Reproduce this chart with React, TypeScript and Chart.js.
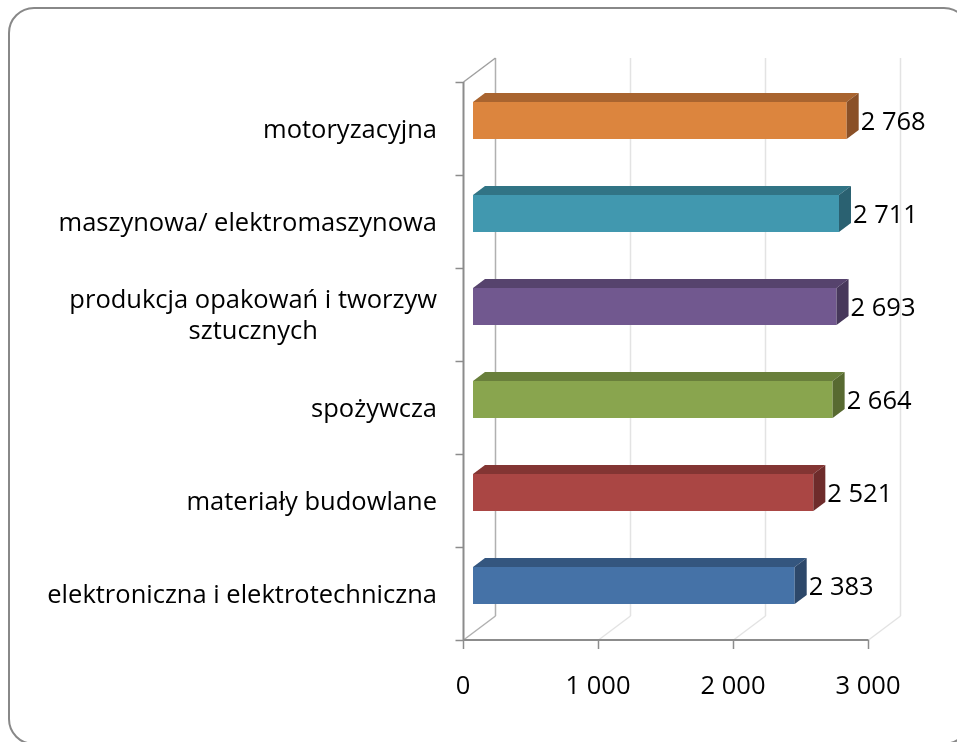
import React, { useEffect, useRef } from "react";
import { Chart, registerables } from "chart.js";

Chart.register(...registerables);

const categories: (string | string[])[] = [
  "motoryzacyjna",
  "maszynowa/ elektromaszynowa",
  ["produkcja opakowań i tworzyw", "sztucznych"],
  "spożywcza",
  "materiały budowlane",
  "elektroniczna i elektrotechniczna",
];
const values = [2768, 2711, 2693, 2664, 2521, 2383];
const xTicks = [0, 1000, 2000, 3000];
const frontColors = ["#DC853E", "#4198AF", "#71588F", "#89A54E", "#AA4644", "#4572A7"];
const topColors = ["#A9642F", "#317485", "#56436D", "#697F3B", "#833533", "#34567F"];
const sideColors = ["#8A5027", "#2A6171", "#47385B", "#586A31", "#6E2C2B", "#2D486A"];

const WALL_DX = 32;
const WALL_DY = 24;
const BAR_DX = 10;
const BAR_DY = 8;
const FACE_DX = 12;
const FACE_DY = 9;
const FONT = '25.5px "Open Sans", sans-serif';

const fmt = (v: number) => String(v).replace(/\B(?=(\d{3})+(?!\d))/g, " ");

function seg(ctx: CanvasRenderingContext2D, x1: number, y1: number, x2: number, y2: number, color: string, w = 1) {
  ctx.beginPath();
  ctx.strokeStyle = color;
  ctx.lineWidth = w;
  ctx.moveTo(x1, y1);
  ctx.lineTo(x2, y2);
  ctx.stroke();
}

const frame3d = {
  id: "frame3d",
  beforeDatasetsDraw(chart: any) {
    const { ctx, chartArea: a, scales } = chart;
    const x = scales.x;
    ctx.save();
    xTicks.forEach((v) => {
      const px = Math.round(x.getPixelForValue(v)) + 0.5;
      const c = v === 0 ? "#b0b0b0" : "#e3e3e3";
      seg(ctx, px + WALL_DX, a.top - WALL_DY, px + WALL_DX, a.bottom - WALL_DY, c, 1.5);
      seg(ctx, px, a.bottom, px + WALL_DX, a.bottom - WALL_DY, c, 1.5);
    });
    const x0 = Math.round(x.getPixelForValue(0)) + 0.5;
    seg(ctx, x0, a.top, x0 + WALL_DX, a.top - WALL_DY, "#a0a0a0", 1.5);
    seg(ctx, x0, a.top, x0, a.bottom, "#8c8c8c", 2);
    const band = (a.bottom - a.top) / categories.length;
    for (let k = 0; k <= categories.length; k++) {
      const yy = Math.round(a.top + k * band) + 0.5;
      seg(ctx, x0 - 8, yy, x0, yy, "#8c8c8c", 1.5);
    }
    seg(ctx, x0, a.bottom, Math.round(x.getPixelForValue(xTicks[xTicks.length - 1])) + 0.5, a.bottom, "#8c8c8c", 2);
    xTicks.forEach((v) => {
      const px = Math.round(x.getPixelForValue(v)) + 0.5;
      seg(ctx, px, a.bottom, px, a.bottom + 9, "#8c8c8c", 1.5);
    });
    ctx.restore();
    ctx.save();
    ctx.translate(BAR_DX, -BAR_DY);
  },
  afterDatasetsDraw(chart: any) {
    const { ctx, chartArea: a, scales } = chart;
    const meta = chart.getDatasetMeta(0);
    meta.data.forEach((el: any, i: number) => {
      const p = el.getProps(["x", "y", "base", "height"], true);
      const top = p.y - p.height / 2;
      const bot = p.y + p.height / 2;
      ctx.beginPath();
      ctx.moveTo(p.base, top);
      ctx.lineTo(p.base + FACE_DX, top - FACE_DY);
      ctx.lineTo(p.x + FACE_DX, top - FACE_DY);
      ctx.lineTo(p.x, top);
      ctx.closePath();
      ctx.fillStyle = topColors[i];
      ctx.fill();
      ctx.beginPath();
      ctx.moveTo(p.x, top);
      ctx.lineTo(p.x + FACE_DX, top - FACE_DY);
      ctx.lineTo(p.x + FACE_DX, bot - FACE_DY);
      ctx.lineTo(p.x, bot);
      ctx.closePath();
      ctx.fillStyle = sideColors[i];
      ctx.fill();
    });
    ctx.restore();

    ctx.save();
    ctx.font = FONT;
    ctx.fillStyle = "#000";
    ctx.textBaseline = "middle";
    ctx.textAlign = "left";
    meta.data.forEach((el: any, i: number) => {
      const p = el.getProps(["x", "y"], true);
      ctx.fillText(fmt(values[i]), p.x + BAR_DX + FACE_DX + 2, p.y - BAR_DY + 2);
    });
    const y = scales.y;
    const right = a.left - 26;
    categories.forEach((lab, i) => {
      const cy = y.getPixelForValue(i) + 2;
      if (Array.isArray(lab)) {
        const lh = 31;
        const w = Math.max(...lab.map((l) => ctx.measureText(l).width));
        const cx = right - w / 2;
        ctx.textAlign = "center";
        lab.forEach((l, j) => {
          ctx.fillText(l, cx, cy + (j - (lab.length - 1) / 2) * lh);
        });
      } else {
        ctx.textAlign = "right";
        ctx.fillText(lab, right, cy);
      }
    });
    ctx.textAlign = "center";
    xTicks.forEach((v) => {
      ctx.fillText(fmt(v), scales.x.getPixelForValue(v), a.bottom + 47);
    });
    ctx.restore();
  },
};

export default function App() {
  const ref = useRef<HTMLCanvasElement>(null);
  useEffect(() => {
    if (!ref.current) return;
    const chart = new Chart(ref.current, {
      type: "bar",
      data: {
        labels: categories as any,
        datasets: [
          {
            data: values,
            backgroundColor: frontColors,
            borderWidth: 0,
            barPercentage: 0.4,
            categoryPercentage: 1,
          },
        ],
      },
      options: {
        indexAxis: "y",
        responsive: false,
        animation: false,
        devicePixelRatio: 1,
        layout: { padding: { left: 463, right: 89, top: 82, bottom: 102 } },
        plugins: { legend: { display: false }, tooltip: { enabled: false } },
        scales: {
          x: { display: false, min: 0, max: 3000 },
          y: { display: false },
        },
      },
      plugins: [frame3d],
    });
    return () => chart.destroy();
  }, []);
  return (
    <div style={{ position: "fixed", left: 0, top: 0, width: 957, height: 742, overflow: "hidden", background: "#fff" }}>
      <canvas ref={ref} width={957} height={742} style={{ position: "absolute", left: 0, top: 0 }} />
      <div
        style={{
          position: "absolute",
          left: 8,
          top: 7,
          width: 962,
          height: 738,
          border: "2px solid #888",
          borderRadius: 26,
          boxSizing: "border-box",
          pointerEvents: "none",
        }}
      />
    </div>
  );
}
